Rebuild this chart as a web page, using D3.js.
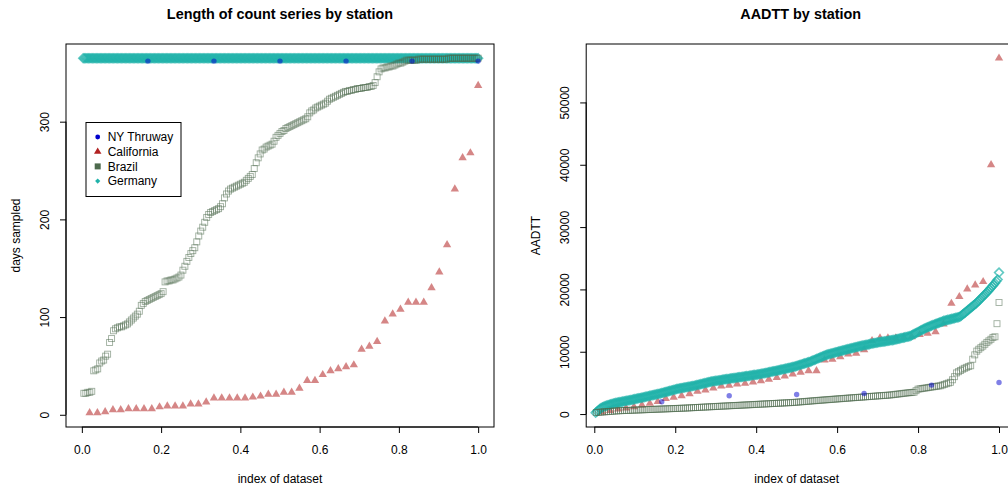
<!DOCTYPE html>
<meta charset="utf-8">
<html lang="en">
<head>
<title>Count series by station</title>
<style>
  body { margin: 0; background: #fff; }
  text { font-family: "Liberation Sans", Arial, Helvetica, sans-serif; fill: #000; }
</style>
</head>
<body>
<svg width="1008" height="489"></svg>
<script src="https://d3js.org/d3.v7.min.js"></script>
<script>

// every series is sorted; its x position is index / length ("index of dataset")

// NY Thruway (6 stations)
var nyDays = [362, 362, 362, 362, 362, 362]
var nyAadtt = [1980, 2940, 3150, 3300, 4650, 5070]

// California (51 stations)
var caDays = [
  2, 2, 3, 5, 5, 6, 6, 6, 6, 8,
  9, 9, 9, 11, 11, 13, 17, 17, 17, 17,
  17, 18, 19, 21, 21, 23, 23, 27, 35, 35,
  41, 45, 47, 49, 51, 67, 70, 75, 96, 103,
  108, 115, 115, 115, 130, 146, 174, 231, 263, 268,
  337
]
var caAadtt = [
  300, 550, 800, 960, 1170, 1440, 1700, 2000, 2500, 2670,
  2940, 3250, 3630, 3850, 4170, 4490, 4590, 4820, 4910, 5140,
  5340, 5560, 5870, 6100, 6400, 6680, 6950, 6950, 8670, 8760,
  9200, 9630, 9730, 10320, 11770, 12200, 12200, 12200, 12300, 12400,
  12730, 12940, 13210, 14450, 17750, 18830, 20060, 20700, 21240, 40000,
  57100
]

// Brazil (200 stations)
var brDays = [
  22, 22, 23, 23, 24, 45, 46, 47, 53, 55,
  56, 60, 62, 74, 78, 86, 88, 89, 90, 90,
  91, 92, 93, 95, 97, 99, 101, 103, 106, 112,
  114, 116, 117, 118, 119, 120, 121, 122, 123, 124,
  126, 136, 137, 137, 138, 138, 139, 140, 141, 143,
  148, 152, 157, 161, 165, 168, 171, 177, 183, 188,
  192, 197, 202, 205, 207, 208, 209, 210, 211, 213,
  216, 222, 226, 229, 231, 232, 233, 234, 235, 236,
  237, 238, 240, 242, 244, 246, 252, 258, 263, 267,
  271, 272, 274, 275, 276, 277, 280, 284, 286, 288,
  290, 291, 293, 294, 295, 296, 297, 298, 299, 300,
  301, 302, 303, 305, 309, 311, 312, 314, 315, 316,
  317, 318, 319, 321, 323, 324, 325, 326, 327, 328,
  329, 330, 331, 331, 332, 332, 333, 333, 334, 334,
  334, 335, 335, 335, 336, 336, 337, 340, 346, 351,
  354, 355, 355, 356, 356, 357, 357, 358, 359, 360,
  360, 361, 362, 363, 363, 363, 363, 363, 363, 364,
  364, 364, 364, 364, 364, 364, 364, 364, 364, 364,
  364, 364, 364, 364, 365, 365, 365, 365, 365, 365,
  365, 365, 365, 365, 365, 365, 365, 365, 365, 365
]
var brAadtt = [
  250, 280, 305, 330, 355, 380, 405, 430, 455, 480,
  505, 530, 543, 556, 569, 582, 595, 608, 621, 634,
  647, 660, 673, 686, 699, 712, 725, 738, 751, 764,
  777, 790, 803, 816, 829, 842, 855, 868, 881, 894,
  907, 920, 933, 946, 960, 977, 994, 1011, 1028, 1045,
  1062, 1079, 1096, 1113, 1130, 1147, 1164, 1181, 1198, 1215,
  1232, 1249, 1266, 1283, 1300, 1317, 1334, 1351, 1366, 1380,
  1397, 1414, 1431, 1448, 1465, 1482, 1499, 1516, 1533, 1550,
  1567, 1584, 1601, 1618, 1635, 1652, 1669, 1686, 1703, 1720,
  1737, 1754, 1771, 1788, 1805, 1820, 1835, 1850, 1877, 1904,
  1931, 1958, 1985, 2012, 2039, 2066, 2093, 2120, 2147, 2174,
  2200, 2225, 2250, 2275, 2300, 2325, 2350, 2375, 2400, 2425,
  2450, 2475, 2500, 2525, 2550, 2575, 2600, 2625, 2648, 2670,
  2694, 2718, 2742, 2766, 2790, 2814, 2838, 2862, 2886, 2910,
  2934, 2958, 2982, 3006, 3028, 3050, 3090, 3130, 3170, 3210,
  3250, 3290, 3330, 3370, 3410, 3440, 3470, 3500, 3750, 4000,
  4050, 4100, 4150, 4200, 4250, 4300, 4350, 4400, 4450, 4500,
  4540, 4650, 4760, 4870, 4980, 5100, 5500, 6000, 6600, 6800,
  7000, 7200, 7350, 7500, 7650, 7750, 8800, 9500, 10100, 10400,
  10650, 10900, 11200, 11500, 11750, 12000, 12300, 12400, 14500, 17900
]

// Germany (300 stations)
var deDays = [
  365, 365, 365, 365, 365, 365, 365, 365, 365, 365,
  365, 365, 365, 365, 365, 365, 365, 365, 365, 365,
  365, 365, 365, 365, 365, 365, 365, 365, 365, 365,
  365, 365, 365, 365, 365, 365, 365, 365, 365, 365,
  365, 365, 365, 365, 365, 365, 365, 365, 365, 365,
  365, 365, 365, 365, 365, 365, 365, 365, 365, 365,
  365, 365, 365, 365, 365, 365, 365, 365, 365, 365,
  365, 365, 365, 365, 365, 365, 365, 365, 365, 365,
  365, 365, 365, 365, 365, 365, 365, 365, 365, 365,
  365, 365, 365, 365, 365, 365, 365, 365, 365, 365,
  365, 365, 365, 365, 365, 365, 365, 365, 365, 365,
  365, 365, 365, 365, 365, 365, 365, 365, 365, 365,
  365, 365, 365, 365, 365, 365, 365, 365, 365, 365,
  365, 365, 365, 365, 365, 365, 365, 365, 365, 365,
  365, 365, 365, 365, 365, 365, 365, 365, 365, 365,
  365, 365, 365, 365, 365, 365, 365, 365, 365, 365,
  365, 365, 365, 365, 365, 365, 365, 365, 365, 365,
  365, 365, 365, 365, 365, 365, 365, 365, 365, 365,
  365, 365, 365, 365, 365, 365, 365, 365, 365, 365,
  365, 365, 365, 365, 365, 365, 365, 365, 365, 365,
  365, 365, 365, 365, 365, 365, 365, 365, 365, 365,
  365, 365, 365, 365, 365, 365, 365, 365, 365, 365,
  365, 365, 365, 365, 365, 365, 365, 365, 365, 365,
  365, 365, 365, 365, 365, 365, 365, 365, 365, 365,
  365, 365, 365, 365, 365, 365, 365, 365, 365, 365,
  365, 365, 365, 365, 365, 365, 365, 365, 365, 365,
  365, 365, 365, 365, 365, 365, 365, 365, 365, 365,
  365, 365, 365, 365, 365, 365, 365, 365, 365, 365,
  365, 365, 365, 365, 365, 365, 365, 365, 365, 365,
  365, 365, 365, 365, 365, 365, 365, 365, 365, 365
]
var deAadtt = [
  200, 420, 620, 800, 950, 1080, 1180, 1270, 1350, 1420,
  1480, 1550, 1620, 1700, 1745, 1790, 1830, 1875, 1915, 1960,
  2000, 2045, 2090, 2130, 2175, 2220, 2265, 2310, 2355, 2400,
  2445, 2490, 2535, 2580, 2625, 2670, 2720, 2770, 2815, 2865,
  2915, 2965, 3015, 3065, 3115, 3160, 3210, 3260, 3310, 3370,
  3425, 3485, 3545, 3600, 3660, 3720, 3775, 3835, 3895, 3950,
  4010, 4050, 4090, 4130, 4170, 4215, 4255, 4295, 4335, 4375,
  4420, 4460, 4500, 4540, 4595, 4650, 4700, 4755, 4805, 4860,
  4915, 4965, 5020, 5075, 5125, 5180, 5215, 5250, 5290, 5325,
  5360, 5395, 5430, 5465, 5500, 5540, 5575, 5610, 5640, 5675,
  5705, 5735, 5770, 5800, 5830, 5865, 5895, 5925, 5960, 5990,
  6025, 6055, 6090, 6120, 6155, 6190, 6220, 6255, 6290, 6320,
  6355, 6390, 6420, 6465, 6510, 6550, 6595, 6640, 6685, 6730,
  6775, 6820, 6860, 6905, 6950, 7000, 7050, 7100, 7145, 7195,
  7245, 7295, 7345, 7395, 7440, 7490, 7540, 7590, 7655, 7725,
  7790, 7860, 7925, 7995, 8060, 8130, 8195, 8265, 8330, 8400,
  8490, 8585, 8675, 8765, 8860, 8950, 9040, 9135, 9225, 9315,
  9410, 9500, 9560, 9615, 9675, 9730, 9790, 9845, 9905, 9960,
  10020, 10075, 10135, 10190, 10250, 10305, 10360, 10415, 10465, 10520,
  10575, 10630, 10685, 10740, 10790, 10845, 10900, 10945, 10990, 11040,
  11085, 11130, 11175, 11220, 11270, 11315, 11360, 11405, 11450, 11485,
  11520, 11555, 11590, 11625, 11660, 11695, 11730, 11760, 11795, 11830,
  11865, 11900, 11950, 12000, 12050, 12100, 12150, 12200, 12250, 12300,
  12350, 12400, 12450, 12500, 12610, 12725, 12835, 12950, 13060, 13175,
  13285, 13400, 13510, 13625, 13735, 13850, 13935, 14020, 14105, 14190,
  14275, 14360, 14445, 14525, 14610, 14695, 14780, 14865, 14950, 15005,
  15060, 15115, 15165, 15220, 15275, 15330, 15385, 15440, 15490, 15545,
  15600, 15780, 15960, 16140, 16320, 16500, 16680, 16860, 17040, 17220,
  17400, 17580, 17750, 17970, 18190, 18410, 18630, 18850, 19065, 19285,
  19500, 19750, 20000, 20250, 20500, 20750, 21000, 21300, 21600, 22700
]

var xTicks = [0, 0.2, 0.4, 0.6, 0.8, 1.0]
var daysTicks = [0, 100, 200, 300]
var aadttTicks = [0, 10000, 20000, 30000, 40000, 50000]
var legendLabels = ["NY Thruway", "California", "Brazil", "Germany"]

var colNY = "#0000CD", colCA = "#B22222", colBR = "#4D6A4D", colDE = "#20B2AA"

var svg = d3.select("svg")

// R style: 4% padding round the data range
function padded(ext) {
  var p = (ext[1] - ext[0]) * 0.04
  return [ext[0] - p, ext[1] + p]
}

function toPoints(vals) {
  return vals.map(function (v, i) { return { x: (i + 1) / vals.length, y: v } })
}

function drawPanel(opt) {
  var g = svg.append("g")
  var x = d3.scaleLinear().domain(opt.xDomain).range([opt.left, opt.right])
  var all = [].concat(opt.ny, opt.ca, opt.br, opt.de)
  var y = d3.scaleLinear().domain(padded(d3.extent(all))).range([opt.bottom, opt.top])

  // California: filled triangles
  g.append("g").selectAll("path")
    .data(toPoints(opt.ca))
    .enter().append("path")
      .attr("d", d3.symbol(d3.symbolTriangle, 30))
      .attr("transform", function (d) { return "translate(" + x(d.x) + "," + y(d.y) + ")" })
      .attr("fill", colCA)
      .attr("fill-opacity", 0.55)

  // Germany: open diamonds, packed so tight they read as a band
  g.append("g").selectAll("path")
    .data(toPoints(opt.de))
    .enter().append("path")
      .attr("d", "M0,-4.4L4.4,0L0,4.4L-4.4,0Z")
      .attr("transform", function (d) { return "translate(" + x(d.x) + "," + y(d.y) + ")" })
      .attr("fill", "none")
      .attr("stroke", colDE)
      .attr("stroke-opacity", 0.7)
      .attr("stroke-width", 1.6)

  // Brazil: open squares
  g.append("g").selectAll("rect")
    .data(toPoints(opt.br))
    .enter().append("rect")
      .attr("x", function (d) { return x(d.x) - 3 })
      .attr("y", function (d) { return y(d.y) - 3 })
      .attr("width", 6)
      .attr("height", 6)
      .attr("fill", "none")
      .attr("stroke", colBR)
      .attr("stroke-opacity", 0.55)
      .attr("stroke-width", 0.9)

  // NY Thruway: filled dots
  g.append("g").selectAll("circle")
    .data(toPoints(opt.ny))
    .enter().append("circle")
      .attr("cx", function (d) { return x(d.x) })
      .attr("cy", function (d) { return y(d.y) })
      .attr("r", 2.7)
      .attr("fill", colNY)
      .attr("fill-opacity", 0.5)

  // box
  g.append("rect")
    .attr("x", opt.left).attr("y", opt.top)
    .attr("width", opt.right - opt.left).attr("height", opt.bottom - opt.top)
    .attr("fill", "none").attr("stroke", "#000").attr("stroke-width", 1)

  var xAxis = g.append("g")
    .attr("transform", "translate(0," + opt.bottom + ")")
    .call(d3.axisBottom(x).tickValues(xTicks).tickFormat(d3.format(".1f")).tickSize(6).tickPadding(12))
  xAxis.select(".domain").remove()
  xAxis.selectAll("text").attr("font-size", 12).attr("font-family", null)
  xAxis.append("line")
    .attr("x1", x(xTicks[0])).attr("x2", x(xTicks[xTicks.length - 1]))
    .attr("stroke", "#000")

  var yAxis = g.append("g")
    .attr("transform", "translate(" + opt.left + ",0)")
    .call(d3.axisLeft(y).tickValues(opt.yTicks).tickFormat(d3.format("d")).tickSize(6))
  yAxis.select(".domain").remove()
  yAxis.selectAll("text")
    .attr("font-size", 12).attr("font-family", null)
    .attr("x", 0).attr("y", -17).attr("dy", null)
    .attr("text-anchor", "middle")
    .attr("transform", "rotate(-90)")
  yAxis.append("line")
    .attr("y1", y(opt.yTicks[0])).attr("y2", y(opt.yTicks[opt.yTicks.length - 1]))
    .attr("stroke", "#000")

  var cx = (opt.left + opt.right) / 2
  g.append("text")
    .attr("x", cx).attr("y", 18.5)
    .attr("text-anchor", "middle")
    .attr("font-size", 14.4).attr("font-weight", "bold")
    .text(opt.title)
  g.append("text")
    .attr("x", x(0.5)).attr("y", 483)
    .attr("text-anchor", "middle")
    .attr("font-size", 12)
    .text("index of dataset")
  g.append("text")
    .attr("transform", "translate(" + (opt.left - 46.5) + "," + ((opt.top + opt.bottom) / 2) + ") rotate(-90)")
    .attr("text-anchor", "middle")
    .attr("font-size", 12)
    .text(opt.yTitle)
}

drawPanel({
  left: 66, right: 494, top: 44, bottom: 427,
  xDomain: [-0.04, 1.04],
  ny: nyDays, ca: caDays, br: brDays, de: deDays,
  yTicks: daysTicks,
  title: "Length of count series by station",
  yTitle: "days sampled"
})

drawPanel({
  left: 586.2, right: 1015.2, top: 44, bottom: 427,
  xDomain: [-0.02, 1.04],
  ny: nyAadtt, ca: caAadtt, br: brAadtt, de: deAadtt,
  yTicks: aadttTicks,
  title: "AADTT by station",
  yTitle: "AADTT"
})

// legend (left panel)
var legendSymbols = [
  function (s) { s.append("circle").attr("r", 2.4).attr("fill", colNY) },
  function (s) { s.append("path").attr("d", d3.symbol(d3.symbolTriangle, 24)).attr("fill", colCA) },
  function (s) { s.append("rect").attr("x", -3).attr("y", -3).attr("width", 6).attr("height", 6).attr("fill", colBR) },
  function (s) { s.append("path").attr("d", "M0,-2.6L2.6,0L0,2.6L-2.6,0Z").attr("fill", colDE) }
]
var legend = svg.append("g")
legend.append("rect")
  .attr("x", 86).attr("y", 122.5).attr("width", 95).attr("height", 74)
  .attr("fill", "#fff").attr("stroke", "#000").attr("stroke-width", 1)
var legendRows = legend.selectAll("g.row")
  .data(legendLabels)
  .enter().append("g")
    .attr("class", "row")
    .attr("transform", function (d, i) { return "translate(97.7," + (137 + i * 14.7) + ")" })
legendRows.each(function (d, i) { legendSymbols[i](d3.select(this)) })
legendRows.append("text")
  .attr("x", 10).attr("y", 4.3)
  .attr("font-size", 12)
  .text(function (d) { return d })

</script>
</body>
</html>
